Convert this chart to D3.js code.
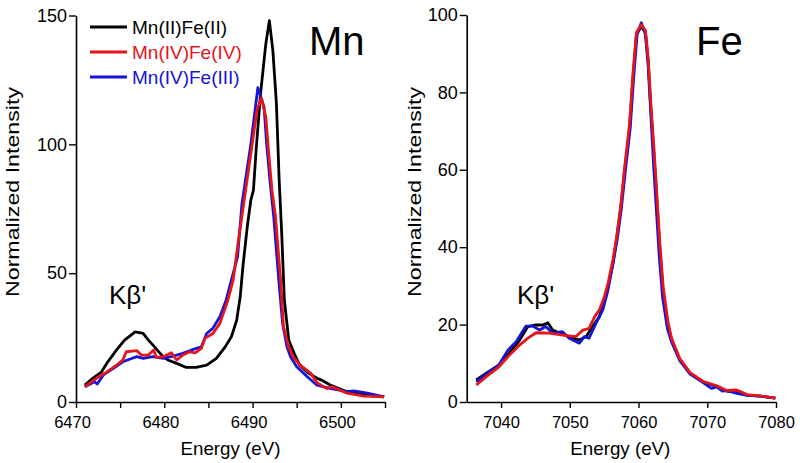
<!DOCTYPE html>
<html>
<head>
<meta charset="utf-8">
<script src="https://cdn.jsdelivr.net/npm/d3@7"></script>
<style>
  body { margin: 0; background: #fff; }
  svg text { font-family: "Liberation Sans", Arial, sans-serif; }
</style>
</head>
<body>
<svg id="chart" width="800" height="463"></svg>
<script>
// ---- Mn panel data ----
var mnE_II = [6471.0, 6471.9, 6472.9, 6473.6, 6474.6, 6475.5, 6476.7, 6477.6, 6478.2, 6478.9, 6479.7, 6480.4, 6481.4, 6482.5, 6483.6, 6484.8, 6485.9, 6486.9, 6487.6, 6488.2, 6488.6, 6488.9, 6489.4, 6489.8, 6490.1, 6490.4, 6490.9, 6491.5, 6491.9, 6492.3, 6492.7, 6493.0, 6493.3, 6493.6, 6494.1, 6494.7, 6495.3, 6496.2, 6497.3, 6497.8, 6498.8, 6500.7, 6502.6, 6504.9];
var mnV_II = [6.6, 9.2, 11.7, 15.6, 20.2, 24.0, 27.2, 26.6, 24.0, 21.4, 18.2, 16.3, 15.0, 13.4, 13.4, 14.3, 16.9, 21.4, 25.3, 31.8, 40.8, 52.4, 68.0, 78.3, 82.2, 97.7, 119.6, 139.0, 148.0, 136.4, 115.8, 87.3, 65.4, 39.5, 24.0, 19.0, 14.5, 11.5, 9.2, 8.5, 6.6, 4.0, 3.1, 2.0];

var mnE_IVIII = [6471.0, 6472.1, 6472.4, 6473.1, 6474.2, 6475.3, 6476.3, 6476.9, 6477.6, 6478.7, 6479.9, 6481.0, 6482.1, 6483.1, 6484.2, 6484.8, 6485.5, 6486.3, 6487.0, 6487.6, 6488.3, 6488.8, 6489.8, 6490.6, 6491.3, 6491.6, 6492.0, 6492.4, 6493.0, 6493.4, 6493.9, 6494.3, 6495.0, 6496.2, 6497.3, 6498.8, 6500.7, 6501.5, 6503.0, 6504.9];
var mnV_IVIII = [5.9, 7.9, 7.0, 10.5, 13.0, 15.6, 16.9, 17.6, 16.9, 17.6, 16.9, 17.8, 18.9, 20.2, 21.4, 26.6, 28.6, 33.1, 39.5, 47.3, 56.3, 77.0, 100.0, 122.0, 114.5, 100.0, 84.8, 71.8, 46.0, 30.5, 21.4, 17.6, 13.7, 9.8, 6.5, 5.3, 4.0, 4.3, 3.4, 2.0];

var mnE_IVIV = [6471.0, 6472.3, 6473.5, 6474.6, 6475.3, 6475.7, 6476.9, 6477.4, 6478.2, 6478.8, 6479.1, 6479.9, 6480.8, 6481.4, 6482.1, 6482.9, 6483.5, 6484.2, 6484.6, 6485.5, 6486.3, 6487.2, 6487.8, 6488.4, 6489.0, 6489.8, 6490.5, 6491.0, 6491.5, 6491.8, 6492.2, 6492.6, 6493.2, 6493.5, 6494.1, 6494.6, 6495.4, 6496.6, 6497.3, 6498.4, 6499.0, 6500.7, 6502.6, 6504.9];
var mnV_IVIV = [5.9, 9.2, 11.7, 14.3, 16.3, 19.5, 19.9, 18.2, 18.2, 20.2, 17.3, 17.6, 19.1, 16.3, 18.2, 19.5, 19.1, 20.8, 24.7, 26.6, 30.5, 39.5, 47.3, 62.8, 77.0, 96.4, 113.2, 118.0, 110.6, 97.7, 82.0, 71.8, 46.0, 29.2, 21.4, 17.5, 14.3, 11.1, 7.5, 5.2, 5.9, 3.4, 2.3, 2.0];

// ---- Fe panel data ----
var feE_II = [7036.4, 7037.8, 7039.7, 7041.2, 7042.7, 7043.9, 7045.1, 7046.1, 7046.8, 7047.5, 7048.5, 7049.9, 7051.4, 7052.4, 7053.3, 7054.3, 7055.0, 7055.6, 7056.3, 7056.8, 7057.4, 7058.0, 7058.7, 7059.2, 7059.7, 7060.4, 7061.0, 7061.4, 7061.8, 7062.3, 7062.7, 7063.1, 7063.6, 7064.3, 7064.8, 7065.3, 7066.0, 7067.5, 7069.4, 7071.4, 7072.8, 7074.3, 7075.8, 7077.7, 7079.9];
var feV_II = [5.7, 7.4, 9.6, 12.6, 16.0, 19.5, 19.9, 19.9, 20.5, 18.6, 17.8, 16.9, 16.0, 16.9, 19.5, 22.0, 26.4, 30.0, 36.0, 42.0, 50.0, 60.0, 71.0, 84.0, 95.0, 97.0, 95.5, 88.0, 75.5, 62.5, 51.0, 39.5, 28.0, 19.5, 16.0, 14.0, 11.0, 7.4, 5.2, 4.0, 2.8, 2.5, 1.8, 1.5, 1.0];

var feE_IVIII = [7036.4, 7038.3, 7039.7, 7041.0, 7042.2, 7043.6, 7044.6, 7045.6, 7046.5, 7047.5, 7048.9, 7049.9, 7051.4, 7052.1, 7052.8, 7053.8, 7054.8, 7055.5, 7056.2, 7056.9, 7057.5, 7058.1, 7058.8, 7059.3, 7059.8, 7060.4, 7061.0, 7061.4, 7061.8, 7062.2, 7062.6, 7063.0, 7063.5, 7064.2, 7064.8, 7065.3, 7066.0, 7067.5, 7069.4, 7070.6, 7071.4, 7072.2, 7072.8, 7074.3, 7075.8, 7077.7, 7079.9];
var feV_IVIII = [5.2, 7.8, 9.6, 13.4, 15.6, 19.6, 19.6, 18.6, 19.5, 17.8, 18.2, 16.5, 15.2, 16.9, 16.5, 20.3, 23.8, 28.5, 35.0, 42.0, 50.0, 60.0, 71.0, 84.0, 95.0, 98.0, 95.0, 87.0, 74.0, 61.0, 49.5, 38.0, 27.0, 19.0, 15.5, 13.5, 10.7, 7.2, 5.0, 3.5, 3.9, 2.8, 3.0, 2.2, 1.7, 1.5, 1.0];

var feE_IVIV = [7036.4, 7037.8, 7039.7, 7041.2, 7042.7, 7043.9, 7045.1, 7047.0, 7049.0, 7050.9, 7051.9, 7052.8, 7053.6, 7054.3, 7055.0, 7055.6, 7056.3, 7056.8, 7057.4, 7058.0, 7058.7, 7059.2, 7059.7, 7060.4, 7061.0, 7061.4, 7061.8, 7062.3, 7062.7, 7063.1, 7063.6, 7064.3, 7064.8, 7065.3, 7066.0, 7067.5, 7069.4, 7071.4, 7072.8, 7074.3, 7075.8, 7077.7, 7079.9];
var feV_IVIV = [4.4, 6.5, 9.1, 12.1, 14.7, 16.5, 17.9, 17.8, 17.3, 16.9, 18.6, 19.0, 22.0, 23.8, 27.0, 31.0, 37.0, 42.5, 50.5, 61.0, 72.0, 85.0, 95.5, 97.5, 96.0, 89.0, 77.0, 64.0, 52.5, 41.0, 29.5, 20.5, 16.5, 14.3, 11.2, 7.6, 5.3, 4.2, 3.0, 3.1, 1.9, 1.6, 1.0];

var seriesNames = ["Mn(II)Fe(II)", "Mn(IV)Fe(IV)", "Mn(IV)Fe(III)"];
var seriesColors = ["#000000", "#e8141b", "#1414d8"];

var mnTicks = [6470, 6475, 6480, 6485, 6490, 6495, 6500, 6505];
var mnYTicks = [0, 50, 100, 150];
var feTicks = [7040, 7050, 7060, 7070, 7080];
var feYTicks = [0, 20, 40, 60, 80, 100];

var svg = d3.select("#chart");

function zip(es, vs) {
  return es.map(function(e, i) { return { e: e, v: vs[i] }; });
}

var drawPanel = function(opt) {
  var x = d3.scaleLinear().domain(opt.xDomain).range([opt.left, opt.right]);
  var y = d3.scaleLinear().domain(opt.yDomain).range([opt.bottom, opt.top]);

  var line = d3.line()
      .x(function(d) { return x(d.e); })
      .y(function(d) { return y(d.v); });

  // draw order: black, blue, red
  var order = [0, 2, 1];
  order.forEach(function(k) {
    svg.append("path")
        .datum(opt.series[k])
        .attr("fill", "none")
        .attr("stroke", seriesColors[k])
        .attr("stroke-width", 2.8)
        .attr("stroke-linejoin", "round")
        .attr("d", line);
  });

  var xAxis = svg.append("g")
      .attr("transform", "translate(0," + opt.bottom + ")")
      .call(d3.axisBottom(x).tickValues(opt.xTicks).tickSize(6).tickSizeOuter(0)
        .tickFormat(function(d) { return d % 10 === 0 ? d : ""; }));
  xAxis.selectAll("text")
      .style("font-size", "16.5px")
      .attr("y", 13)
      .attr("dy", "0.8em")
      .attr("dx", opt.xLabelShift);

  var yAxis = svg.append("g")
      .attr("transform", "translate(" + opt.left + ",0)")
      .call(d3.axisLeft(y).tickValues(opt.yTicks).tickSize(7).tickSizeOuter(0));
  yAxis.selectAll("text")
      .style("font-size", "18px")
      .attr("x", -9);

  [xAxis, yAxis].forEach(function(a) {
    a.select(".domain").attr("stroke-width", 1.6);
    a.selectAll(".tick line").attr("stroke-width", 1.4);
    a.selectAll("text").attr("fill", "#000");
  });

  svg.append("text")
      .attr("x", (opt.left + opt.right) / 2 + opt.xTitleShift)
      .attr("y", 455)
      .attr("text-anchor", "middle")
      .attr("textLength", 100)
      .attr("lengthAdjust", "spacingAndGlyphs")
      .style("font-size", "19px")
      .text("Energy (eV)");

  svg.append("text")
      .attr("transform", "translate(" + opt.yTitleX + ",192) rotate(-90)")
      .attr("text-anchor", "middle")
      .attr("textLength", 210)
      .attr("lengthAdjust", "spacingAndGlyphs")
      .style("font-size", "19px")
      .text("Normalized Intensity");

  svg.append("text")
      .attr("x", opt.titleX)
      .attr("y", 55)
      .style("font-size", "40px")
      .text(opt.title);

  svg.append("text")
      .attr("x", opt.kbX)
      .attr("y", 304)
      .style("font-size", "26px")
      .text("K\u03b2'");
};

drawPanel({
  xDomain: [6470, 6505], yDomain: [0, 150],
  left: 76, right: 385, top: 15.5, bottom: 402,
  xTicks: mnTicks, yTicks: mnYTicks, xLabelShift: -4,
  xTitleShift: 0, yTitleX: 19,
  series: [zip(mnE_II, mnV_II), zip(mnE_IVIV, mnV_IVIV), zip(mnE_IVIII, mnV_IVIII)],
  title: "Mn", titleX: 309, kbX: 109
});

drawPanel({
  xDomain: [7035, 7080], yDomain: [0, 100],
  left: 466.7, right: 776, top: 15, bottom: 402,
  xTicks: feTicks, yTicks: feYTicks, xLabelShift: 0,
  xTitleShift: -1, yTitleX: 421,
  series: [zip(feE_II, feV_II), zip(feE_IVIV, feV_IVIV), zip(feE_IVIII, feV_IVIII)],
  title: "Fe", titleX: 696, kbX: 517
});

// legend
var legend = svg.append("g");
seriesNames.forEach(function(name, i) {
  var ly = 27 + i * 25;
  legend.append("line")
      .attr("x1", 90).attr("x2", 127)
      .attr("y1", ly).attr("y2", ly)
      .attr("stroke", seriesColors[i])
      .attr("stroke-width", 2.8);
  legend.append("text")
      .attr("x", 132)
      .attr("y", ly + 6.5)
      .attr("fill", seriesColors[i])
      .style("font-size", "19px")
      .text(name);
});
</script>
</body>
</html>
